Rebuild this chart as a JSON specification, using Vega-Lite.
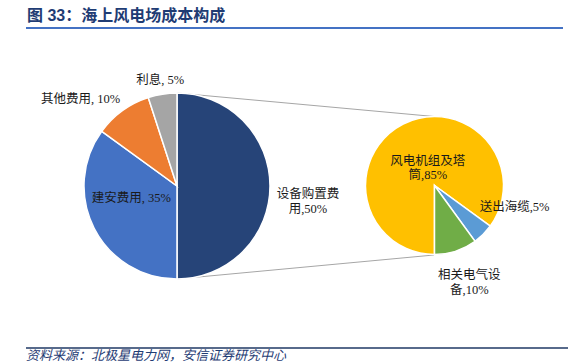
{
  "$schema": "https://vega.github.io/schema/vega-lite/v6.json",
  "width": 586,
  "height": 364,
  "autosize": {"type": "fit", "contains": "padding"},
  "padding": 0,
  "background": "white",
  "config": {"view": {"stroke": null}, "text": {"font": "Liberation Serif, Noto Sans CJK SC", "fontSize": 12.5, "fill": "#1a1a1a"}},
  "datasets": {
    "main": [
      {"name": "设备购置费用", "value": 50, "label": ["设备购置费", "用,50%"]},
      {"name": "建安费用", "value": 35, "label": "建安费用, 35%"},
      {"name": "其他费用", "value": 10, "label": "其他费用, 10%"},
      {"name": "利息", "value": 5, "label": "利息, 5%"}
    ],
    "sub": [
      {"name": "风电机组及塔筒", "value": 85, "label": ["风电机组及塔", "筒,85%"]},
      {"name": "送出海缆", "value": 5, "label": "送出海缆,5%"},
      {"name": "相关电气设备", "value": 10, "label": ["相关电气设", "备,10%"]}
    ],
    "note": [
      {"title": "图 33：海上风电场成本构成", "source": "资料来源：北极星电力网，安信证券研究中心"}
    ]
  },
  "resolve": {"scale": {"theta": "independent"}},
  "layer": [
    {
      "data": {"name": "note"},
      "mark": {"type": "rule", "color": "#A6A6A6", "strokeWidth": 1},
      "encoding": {"x": {"value": 177}, "y": {"value": 93}, "x2": {"value": 434}, "y2": {"value": 116.5}}
    },
    {
      "data": {"name": "note"},
      "mark": {"type": "rule", "color": "#A6A6A6", "strokeWidth": 1},
      "encoding": {"x": {"value": 177}, "y": {"value": 279}, "x2": {"value": 434}, "y2": {"value": 255}}
    },
    {
      "data": {"name": "main"},
      "mark": {"type": "arc", "x": 177, "y": 186, "outerRadius": 93, "stroke": "white", "strokeWidth": 1.5},
      "encoding": {
        "theta": {"field": "value", "type": "quantitative", "stack": true, "scale": {"range": [0, 6.2832]}},
        "order": {"field": "value", "sort": "descending"},
        "color": {"field": "name", "type": "nominal", "legend": null,
          "scale": {"domain": ["设备购置费用", "建安费用", "其他费用", "利息", "风电机组及塔筒", "送出海缆", "相关电气设备"],
                    "range": ["#264478", "#4472C4", "#ED7D31", "#A5A5A5", "#FFC000", "#5B9BD5", "#70AD47"]}}
      }
    },
    {
      "data": {"name": "sub"},
      "mark": {"type": "arc", "x": 434.5, "y": 185.5, "outerRadius": 69, "stroke": "white", "strokeWidth": 1.5},
      "encoding": {
        "theta": {"field": "value", "type": "quantitative", "stack": true, "scale": {"range": [2.1991, 8.4823]}},
        "order": {"field": "value", "sort": "ascending"},
        "color": {"field": "name", "type": "nominal", "legend": null}
      }
    },
    {
      "data": {"name": "main"},
      "mark": {"type": "text", "x": 177, "y": 186, "radius": 125, "dx": 6, "dy": 8},
      "encoding": {
        "theta": {"field": "value", "type": "quantitative", "stack": true, "scale": {"range": [0, 6.2832]}},
        "order": {"field": "value", "sort": "descending"},
        "detail": {"field": "name"},
        "text": {"condition": {"test": "datum.name === '设备购置费用'", "field": "label"}, "value": ""}
      }
    },
    {
      "data": {"name": "main"},
      "mark": {"type": "text", "x": 177, "y": 186, "radius": 50, "dx": -1, "dy": -11},
      "encoding": {
        "theta": {"field": "value", "type": "quantitative", "stack": true, "scale": {"range": [0, 6.2832]}},
        "order": {"field": "value", "sort": "descending"},
        "detail": {"field": "name"},
        "text": {"condition": {"test": "datum.name === '建安费用'", "field": "label"}, "value": ""}
      }
    },
    {
      "data": {"name": "main"},
      "mark": {"type": "text", "x": 177, "y": 186, "radius": 120, "dx": -26, "dy": 10},
      "encoding": {
        "theta": {"field": "value", "type": "quantitative", "stack": true, "scale": {"range": [0, 6.2832]}},
        "order": {"field": "value", "sort": "descending"},
        "detail": {"field": "name"},
        "text": {"condition": {"test": "datum.name === '其他费用'", "field": "label"}, "value": ""}
      }
    },
    {
      "data": {"name": "main"},
      "mark": {"type": "text", "x": 177, "y": 186, "radius": 107},
      "encoding": {
        "theta": {"field": "value", "type": "quantitative", "stack": true, "scale": {"range": [0, 6.2832]}},
        "order": {"field": "value", "sort": "descending"},
        "detail": {"field": "name"},
        "text": {"condition": {"test": "datum.name === '利息'", "field": "label"}, "value": ""}
      }
    },
    {
      "data": {"name": "sub"},
      "mark": {"type": "text", "x": 434.5, "y": 185.5, "radius": 28, "dx": 6},
      "encoding": {
        "theta": {"field": "value", "type": "quantitative", "stack": true, "scale": {"range": [2.1991, 8.4823]}},
        "order": {"field": "value", "sort": "ascending"},
        "detail": {"field": "name"},
        "text": {"condition": {"test": "datum.name === '风电机组及塔筒'", "field": "label"}, "value": ""}
      }
    },
    {
      "data": {"name": "sub"},
      "mark": {"type": "text", "x": 434.5, "y": 185.5, "radius": 30, "dx": 24, "align": "left"},
      "encoding": {
        "theta": {"field": "value", "type": "quantitative", "stack": true, "scale": {"range": [2.1991, 8.4823]}},
        "order": {"field": "value", "sort": "ascending"},
        "detail": {"field": "name"},
        "text": {"condition": {"test": "datum.name === '送出海缆'", "field": "label"}, "value": ""}
      }
    },
    {
      "data": {"name": "sub"},
      "mark": {"type": "text", "x": 434.5, "y": 185.5, "radius": 90, "dx": 7, "dy": 4},
      "encoding": {
        "theta": {"field": "value", "type": "quantitative", "stack": true, "scale": {"range": [2.1991, 8.4823]}},
        "order": {"field": "value", "sort": "ascending"},
        "detail": {"field": "name"},
        "text": {"condition": {"test": "datum.name === '相关电气设备'", "field": "label"}, "value": ""}
      }
    },
    {
      "data": {"name": "note"},
      "mark": {"type": "text", "x": 27, "y": 16, "align": "left", "baseline": "middle", "font": "Liberation Sans, Noto Sans CJK SC", "fontSize": 16, "fontWeight": "bold", "fill": "#1F3C74"},
      "encoding": {"text": {"field": "title"}}
    },
    {
      "data": {"name": "note"},
      "mark": {"type": "rule", "color": "#4472C4", "strokeWidth": 2},
      "encoding": {"x": {"value": 26}, "y": {"value": 28}, "x2": {"value": 563}, "y2": {"value": 28}}
    },
    {
      "data": {"name": "note"},
      "mark": {"type": "rule", "color": "#1F3864", "strokeWidth": 1.5},
      "encoding": {"x": {"value": 26}, "y": {"value": 348}, "x2": {"value": 568}, "y2": {"value": 348}}
    },
    {
      "data": {"name": "note"},
      "mark": {"type": "text", "x": 26, "y": 356, "align": "left", "baseline": "middle", "font": "Noto Sans CJK SC", "fontSize": 13, "fontStyle": "italic", "fill": "#1F3C74"},
      "encoding": {"text": {"field": "source"}}
    }
  ]
}
